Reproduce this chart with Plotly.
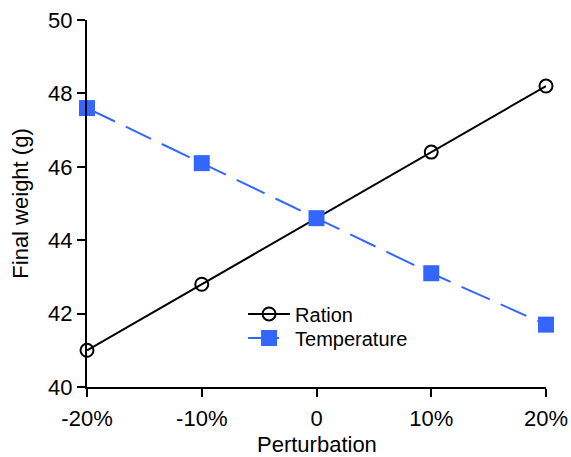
import plotly.graph_objects as go

perturbation = [-20, -10, 0, 10, 20]
ration = [41.0, 42.8, 44.6, 46.4, 48.2]
temperature = [47.6, 46.1, 44.6, 43.1, 41.7]
x_tickvals = [-20, -10, 0, 10, 20]
x_ticktext = ["-20%", "-10%", "0", "10%", "20%"]
y_tickvals = [40, 42, 44, 46, 48, 50]
x_title = "Perturbation"
y_title = "Final weight (g)"

FONT = "Liberation Sans, Arial, sans-serif"
BLUE = "#3366FF"

fig = go.Figure()
fig.add_trace(go.Scatter(
    x=perturbation, y=ration, name="Ration", mode="lines+markers",
    line=dict(color="black", width=2),
    marker=dict(symbol="circle-open", size=13, color="black", line=dict(width=2)),
    cliponaxis=False, legend="legend",
))
fig.add_trace(go.Scatter(
    x=perturbation, y=temperature, name="Temperature", mode="lines+markers",
    line=dict(color=BLUE, width=2, dash="31px,12px,28px,12px"),
    marker=dict(symbol="square", size=16, color=BLUE),
    cliponaxis=False, legend="legend2",
))

legend_common = dict(xanchor="left", yanchor="middle", bgcolor="rgba(0,0,0,0)",
                     font=dict(size=20), itemwidth=42)
fig.update_layout(
    width=571, height=457,
    margin=dict(l=87, r=25, t=20, b=70),
    paper_bgcolor="white", plot_bgcolor="white",
    font=dict(family=FONT, size=22, color="black"),
    showlegend=True,
    legend=dict(x=0.34, y=0.199, **legend_common),
    legend2=dict(x=0.34, y=0.1335, **legend_common),
)
fig.add_annotation(
    text=x_title, xref="paper", yref="paper", x=0.5, y=0,
    xanchor="center", yanchor="top", yshift=-43, showarrow=False,
    font=dict(size=22, family=FONT, color="black"),
)
fig.update_xaxes(
    range=[-20, 20], tickvals=x_tickvals, ticktext=x_ticktext,
    showline=True, linecolor="black", linewidth=2,
    ticks="outside", ticklen=8, tickwidth=2, tickcolor="black",
    ticklabelstandoff=3,
    showgrid=False, zeroline=False, automargin=False,
)
fig.update_yaxes(
    range=[40, 50], tickvals=y_tickvals,
    showline=True, linecolor="black", linewidth=2,
    ticks="outside", ticklen=8, tickwidth=2, tickcolor="black",
    showgrid=False, zeroline=False, automargin=False,
    title=dict(text=y_title, standoff=13, font=dict(size=22, family=FONT, color="black")),
)

fig.write_html(
    "out.html",
    config={"displayModeBar": False},
    post_script="document.body.style.margin='0';document.body.style.overflow='hidden';",
)
